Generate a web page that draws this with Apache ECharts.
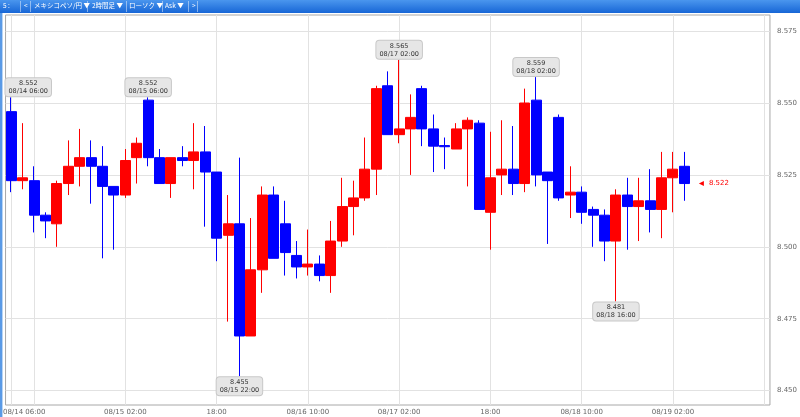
<!DOCTYPE html>
<html><head><meta charset="utf-8">
<script src="https://cdn.jsdelivr.net/npm/echarts@6/dist/echarts.min.js"></script>
<style>html,body{margin:0;padding:0;background:#fff}#c{width:800px;height:417px}</style>
</head><body><div id="c"></div>
<script>
const times = [
'08/14 06:00','08/14 08:00','08/14 10:00','08/14 12:00','08/14 14:00','08/14 16:00','08/14 18:00','08/14 20:00','08/14 22:00','08/15 00:00',
'08/15 02:00','08/15 04:00','08/15 06:00','08/15 08:00','08/15 10:00','08/15 12:00','08/15 14:00','08/15 16:00','08/15 18:00','08/15 20:00',
'08/15 22:00','08/16 00:00','08/16 02:00','08/16 04:00','08/16 06:00','08/16 08:00','08/16 10:00','08/16 12:00','08/16 14:00','08/16 16:00',
'08/16 18:00','08/16 20:00','08/16 22:00','08/17 00:00','08/17 02:00','08/17 04:00','08/17 06:00','08/17 08:00','08/17 10:00','08/17 12:00',
'08/17 14:00','08/17 16:00','08/17 18:00','08/17 20:00','08/17 22:00','08/18 00:00','08/18 02:00','08/18 04:00','08/18 06:00','08/18 08:00',
'08/18 10:00','08/18 12:00','08/18 14:00','08/18 16:00','08/18 18:00','08/18 20:00','08/18 22:00','08/19 00:00','08/19 02:00','08/19 04:00'
];
const open = [
8.547,8.523,8.523,8.511,8.508,8.522,8.528,8.531,8.528,8.521,
8.518,8.531,8.551,8.531,8.522,8.531,8.530,8.533,8.526,8.504,
8.508,8.469,8.492,8.518,8.508,8.497,8.493,8.494,8.490,8.502,
8.514,8.517,8.527,8.556,8.539,8.541,8.555,8.541,8.5352,8.534,
8.541,8.543,8.512,8.525,8.527,8.522,8.551,8.526,8.545,8.518,
8.519,8.513,8.511,8.502,8.518,8.514,8.516,8.513,8.524,8.528
];
const close = [
8.523,8.524,8.511,8.509,8.522,8.528,8.531,8.528,8.521,8.518,
8.530,8.536,8.531,8.522,8.531,8.530,8.533,8.526,8.503,8.508,
8.469,8.492,8.518,8.496,8.498,8.493,8.494,8.490,8.502,8.514,
8.517,8.527,8.555,8.539,8.541,8.545,8.541,8.535,8.5348,8.541,
8.544,8.513,8.524,8.527,8.522,8.550,8.525,8.523,8.517,8.519,
8.512,8.511,8.502,8.518,8.514,8.516,8.513,8.524,8.527,8.522
];
const low = [
8.519,8.520,8.505,8.503,8.500,8.518,8.521,8.515,8.496,8.499,
8.517,8.522,8.528,8.522,8.517,8.528,8.520,8.507,8.495,8.474,
8.455,8.469,8.484,8.496,8.490,8.489,8.490,8.488,8.484,8.500,
8.504,8.516,8.518,8.539,8.536,8.525,8.535,8.526,8.527,8.534,
8.521,8.513,8.499,8.518,8.518,8.519,8.521,8.501,8.516,8.510,
8.508,8.500,8.495,8.481,8.499,8.502,8.505,8.503,8.512,8.516
];
const high = [
8.552,8.543,8.528,8.512,8.523,8.537,8.541,8.537,8.535,8.521,
8.534,8.538,8.552,8.534,8.531,8.535,8.543,8.542,8.526,8.518,
8.531,8.510,8.521,8.521,8.516,8.502,8.506,8.497,8.509,8.524,
8.523,8.538,8.556,8.561,8.565,8.553,8.556,8.546,8.538,8.543,
8.545,8.544,8.540,8.544,8.542,8.555,8.559,8.526,8.546,8.528,
8.521,8.514,8.513,8.520,8.524,8.524,8.527,8.533,8.533,8.533
];
const tickIndex = [0, 10, 18, 26, 34, 42, 50, 58];
const tickLabels = ['08/14 06:00','08/15 02:00','18:00','08/16 10:00','08/17 02:00','18:00','08/18 10:00','08/19 02:00'];
const gridIndex = [0, 2, 10, 18, 26, 34, 42, 50, 58, 66];
const yTicks = [8.450, 8.475, 8.500, 8.525, 8.550, 8.575];
const extremeIndex = [0, 12, 20, 34, 46, 53];
const extremeKind = ['high','high','low','high','high','low'];
const lastPrice = 8.522;
const headerItems = ['5 :', '<', 'メキシコペソ/円 ▼', '2時間足 ▼', 'ローソク ▼', 'Ask ▼', '>'];

const FONT = 'DejaVu Sans';
const JP = 'Noto Sans CJK JP';
const RED = '#ff0000', BLUE = '#0000ff';

const ohlc = open.map((o, i) => [o, close[i], low[i], high[i]]);

const annLabelBase = {
  show: true, distance: 1, color: '#333', fontSize: 6.5, lineHeight: 8, fontFamily: FONT,
  backgroundColor: '#e6e6e6', borderColor: '#c8c8c8', borderWidth: 1, borderRadius: 3,
  padding: [1, 3, 1, 3], align: 'center'
};
const markData = extremeIndex.map((idx, k) => {
  const isHigh = extremeKind[k] === 'high';
  const v = isHigh ? high[idx] : low[idx];
  return {
    coord: [idx, v], value: v, symbol: 'circle', symbolSize: 0,
    label: Object.assign({}, annLabelBase, {
      position: isHigh ? 'top' : 'bottom',
      formatter: v.toFixed(3) + '\n' + times[idx],
      offset: idx === 0 ? [17, 0] : [0, 0]
    })
  };
});
markData.push({
  coord: [times.length - 1, lastPrice], value: lastPrice,
  symbol: 'triangle', symbolSize: [5, 5], symbolRotate: 90, symbolOffset: [17, 0],
  itemStyle: { color: RED },
  label: { show: true, position: 'right', distance: 1, offset: [4, 0], formatter: lastPrice.toFixed(3), color: RED, fontSize: 7, fontFamily: FONT }
});

const headerX = [3, 24, 34, 92, 129, 165, 192];
const sepX = [20.5, 30.5, 87.5, 126.5, 162.5, 188.5, 197.5];

const chart = echarts.init(document.getElementById('c'), null, { renderer: 'canvas' });
chart.setOption({
  animation: false,
  backgroundColor: '#ffffff',
  grid: { left: 5, right: 24, top: 15, bottom: 12, show: true, borderColor: '#a8a8a8', borderWidth: 1, backgroundColor: 'transparent' },
  xAxis: {
    type: 'category', data: times, max: 66, boundaryGap: true,
    axisLine: { show: false }, axisTick: { show: false },
    axisLabel: {
      interval: (i) => tickIndex.indexOf(i) >= 0,
      formatter: (v, i) => {
        const k = tickIndex.indexOf(i);
        if (k < 0) return '';
        return i === 0 ? '{f|' + tickLabels[k] + '}' : tickLabels[k];
      },
      rich: { f: { padding: [0, 0, 0, 26], fontSize: 7, color: '#666', fontFamily: FONT } },
      fontSize: 7, color: '#666', fontFamily: FONT, margin: 4
    },
    splitLine: { show: true, alignWithLabel: true, interval: (i) => gridIndex.indexOf(i) >= 0, lineStyle: { color: '#e2e2e2', width: 1 } }
  },
  yAxis: {
    type: 'value', position: 'right', scale: true,
    min: 8.445, max: 8.5806, interval: 0.005,
    axisLine: { show: false }, axisTick: { show: false },
    axisLabel: {
      fontSize: 7, color: '#666', fontFamily: FONT, margin: 7,
      formatter: (v) => yTicks.some(t => Math.abs(t - v) < 1e-7) ? v.toFixed(3) : ''
    },
    splitLine: { show: true, lineStyle: { color: ['rgba(0,0,0,0)', '#e2e2e2', 'rgba(0,0,0,0)', 'rgba(0,0,0,0)', 'rgba(0,0,0,0)'], width: 1 } }
  },
  series: [{
    type: 'candlestick', data: ohlc, barWidth: 10.5,
    itemStyle: { color: RED, color0: BLUE, borderColor: RED, borderColor0: BLUE, borderWidth: 1 },
    markPoint: { silent: true, data: markData, animation: false }
  }],
  graphic: [
    { type: 'rect', left: 0, top: 0, shape: { width: 800, height: 13 },
      style: { fill: new echarts.graphic.LinearGradient(0, 0, 0, 1, [{ offset: 0, color: '#4a96ee' }, { offset: 1, color: '#1766d6' }]) }, z: 10 },
    { type: 'rect', left: 0, top: 13, shape: { width: 2, height: 404 }, style: { fill: '#5a9ae6' }, z: 10 },
    { type: 'rect', left: 2, top: 13, shape: { width: 1, height: 404 }, style: { fill: '#b8d4f4' }, z: 10 },
    ...headerItems.map((t, i) => ({
      type: 'text', left: headerX[i], top: 2.5, style: { text: t, fill: '#fff', fontSize: 6.5, fontFamily: JP }, z: 11
    })),
    ...sepX.map(x => ({
      type: 'line', shape: { x1: x, y1: 1, x2: x, y2: 12 }, style: { stroke: 'rgba(255,255,255,0.45)', lineWidth: 1 }, z: 11
    }))
  ]
});
</script>
</body></html>
